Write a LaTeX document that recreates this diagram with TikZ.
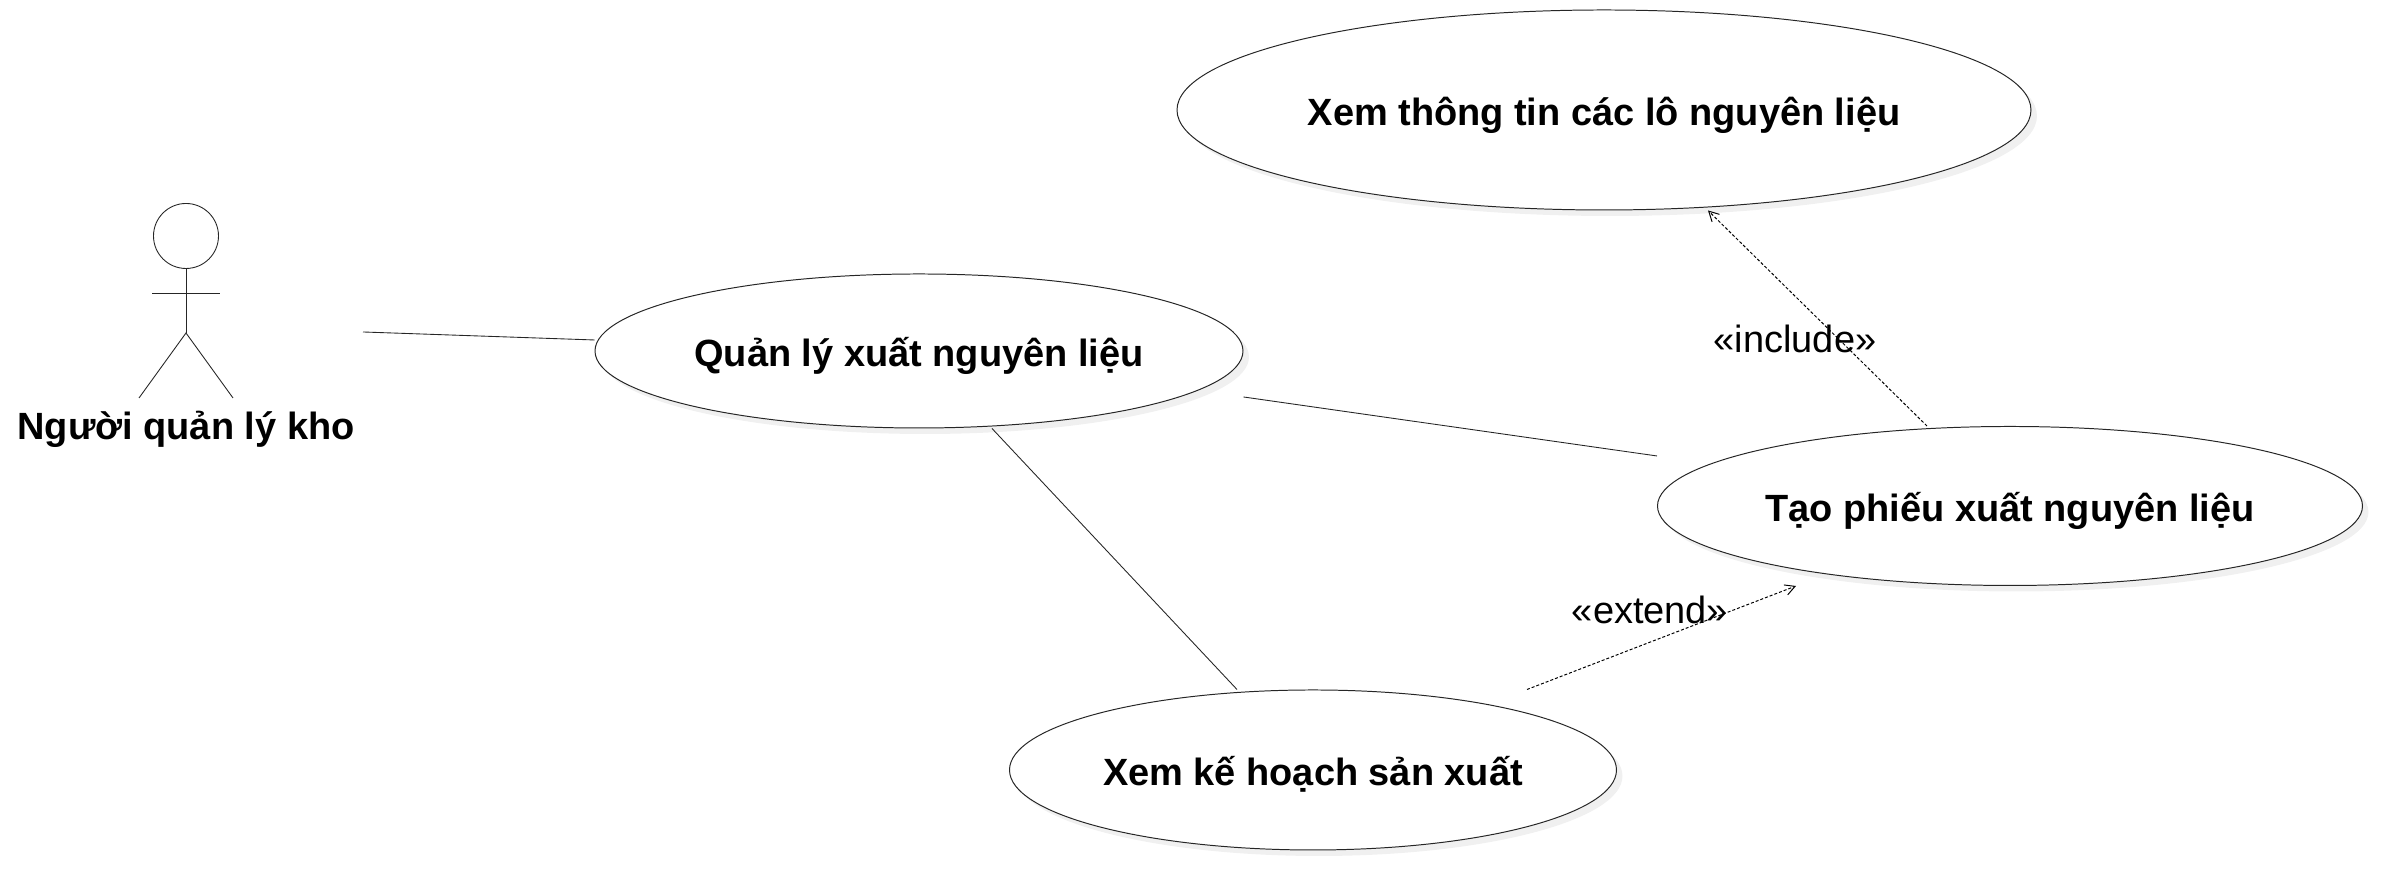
\documentclass[tikz,border=0pt]{standalone}
\usepackage{fontspec}
\setmainfont{Liberation Sans}
\usetikzlibrary{shapes.geometric,shadows,arrows.meta}
\tikzset{
  usecase/.style={ellipse, draw=black!85, line width=0.28pt, fill=white, inner sep=0pt,
    general shadow={fill=black!6, shadow xshift=0.06cm, shadow yshift=-0.06cm},
    text height=10.6pt, text depth=2pt,
    font=\fontsize{10.8}{13}\selectfont\bfseries},
  assoc/.style={draw=black!85, line width=0.25pt},
  dep/.style={draw=black, line width=0.28pt, dash pattern=on 0.03cm off 0.02cm, ->},
  stereo/.style={font=\fontsize{10.8}{13}\selectfont, inner sep=0pt}
}
\begin{document}
\begin{tikzpicture}[>={Straight Barb[length=2.8pt,width=3pt]}]
  \useasboundingbox (0,0) rectangle (24.03,8.90);

  \node[usecase, minimum width=8.54cm, minimum height=2.00cm] (xemthongtin) at (16.04,7.80) {Xem thông tin các lô nguyên liệu};
  \node[usecase, minimum width=6.48cm, minimum height=1.54cm] (quanly) at (9.19,5.39) {Quản lý xuất nguyên liệu};
  \node[usecase, minimum width=7.05cm, minimum height=1.59cm] (taophieu) at (20.10,3.84) {Tạo phiếu xuất nguyên liệu};
  \node[usecase, minimum width=6.07cm, minimum height=1.60cm] (xemkehoach) at (13.13,1.20) {Xem kế hoạch sản xuất};

  \node[circle, draw=black!85, line width=0.25pt, minimum size=0.65cm, inner sep=0pt] (head) at (1.86,6.54) {};
  \coordinate (hip) at (1.86,5.57);
  \coordinate (armL) at (1.52,5.97);
  \coordinate (armR) at (2.20,5.97);
  \coordinate (footL) at (1.39,4.92);
  \coordinate (footR) at (2.33,4.92);
  \coordinate (actorport) at (3.63,5.58);
  \node[font=\fontsize{10.8}{13}\selectfont\bfseries, inner sep=0pt] (actor) at (1.86,4.61) {Người quản lý kho};

  \draw[assoc] (head) -- (hip);
  \draw[assoc] (armL) -- (armR);
  \draw[assoc] (footL) -- (hip) -- (footR);

  \draw[assoc] (actorport) -- ([yshift=0.11cm]quanly.west);
  \draw[assoc] ([yshift=-0.46cm]quanly.east) -- ([yshift=0.50cm]taophieu.west);
  \draw[assoc] ([xshift=0.73cm]quanly.south) -- ([xshift=-0.76cm]xemkehoach.north);

  \draw[dep] ([xshift=-0.83cm]taophieu.north) -- ([xshift=1.04cm]xemthongtin.south);
  \draw[dep] ([xshift=2.14cm]xemkehoach.north) -- ([xshift=-2.14cm]taophieu.south);

  \node[stereo] (include) at (17.95,5.51) {«include»};
  \node[stereo] (extend) at (16.50,2.80) {«extend»};
\end{tikzpicture}
\end{document}
